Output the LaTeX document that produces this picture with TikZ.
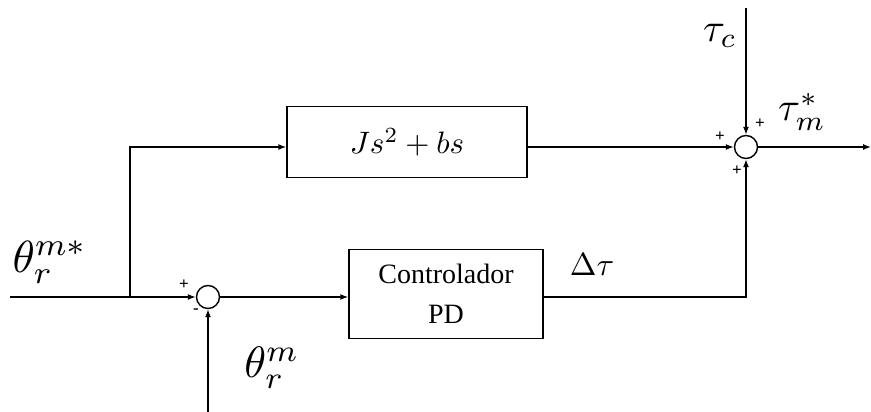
\documentclass[tikz,border=0pt]{standalone}
\usepackage{graphicx}
\usepackage{fontspec}
\setmainfont{Liberation Serif}
\usetikzlibrary{arrows.meta}
\begin{document}
\begin{tikzpicture}[x=1pt,y=-1pt,
  line width=1.4pt,
  arr/.style={-{Latex[length=8pt,width=6pt]}},
  blk/.style={draw,rectangle,inner sep=0pt},
  sumc/.style={draw,circle,minimum size=23pt,inner sep=0pt},
  sgn/.style={font=\fontsize{17}{17}\selectfont\bfseries,inner sep=0pt},
  lbl/.style={inner sep=0pt}]
\useasboundingbox (0,0) rectangle (871,412);
% nodes
\node[blk,minimum width=240pt,minimum height=71pt] (G) at (407,142)
  {\scalebox{3.1}{$Js^2+bs$}};
\node[blk,minimum width=194pt,minimum height=89pt,align=center,
  font=\fontsize{28}{40}\selectfont] (PD) at (446,294)
  {Controlador\\PD};
\node[sumc] (S1) at (208,297) {};
\node[sumc] (S2) at (746,147) {};
\coordinate (in) at (10,297);
\coordinate (br) at (130,297);
\coordinate (brup) at (130,147);
\coordinate (tc) at (746,8);
\coordinate (out) at (871,147);
\coordinate (thm) at (208,412);
\coordinate (fb) at (746,297);
% connectors
\draw (in) -- (br);
\draw[arr] (br) -- (S1.west);
\draw[arr] (br) -- (brup) -- (G.west |- brup);
\draw[arr] (G.east |- S2) -- (S2.west);
\draw[arr] (S1.east) -- (PD.west |- S1);
\draw[arr] (PD.east |- fb) -- (fb) -- (S2.south);
\draw[arr] (tc) -- (S2.north);
\draw[arr] (thm) -- (S1.south);
\draw[arr] (S2.east) -- (out);
% labels
\node[lbl,scale=4.5] at (50,262) {$\theta_r^{m*}$};
\node[lbl,scale=4.4] at (272,368) {$\theta_r^{m}$};
\node[lbl,scale=4] at (720,36) {$\tau_c$};
\node[lbl,scale=4] at (802,112) {$\tau_m^*$};
\node[lbl,scale=3.2] at (592,265) {$\Delta\tau$};
% signs
\node[sgn] at (184,285) {+};
\node[sgn] at (196,311) {-};
\node[sgn] at (720,137) {+};
\node[sgn] at (760,124) {+};
\node[sgn] at (737,171) {+};
\end{tikzpicture}
\end{document}
